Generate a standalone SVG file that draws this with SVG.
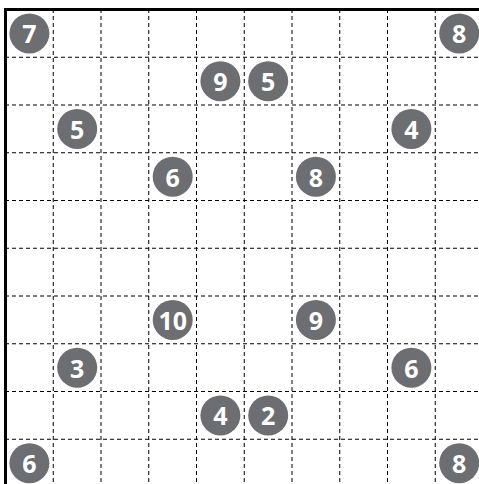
<svg xmlns="http://www.w3.org/2000/svg" width="479" height="484" viewBox="0 0 479 484">
<style>
.g{stroke:#000;stroke-width:1;stroke-dasharray:4,3;fill:none}
.b{stroke:#000;stroke-width:3;fill:none}
.c{fill:#6d6e71}
.t{fill:#fff;font-family:"Open Sans","DejaVu Sans",sans-serif;font-weight:bold;font-size:25px;text-anchor:middle;dominant-baseline:central}
</style>
<rect width="479" height="484" fill="#fff"/>
<g id="grid">
<path class="g" d="M53.25 9V484M101 9V484M148.75 9V484M196.5 9V484M244.25 9V484M292 9V484M339.75 9V484M387.5 9V484M435.25 9V484"/>
<path class="g" d="M5 57.25H479M5 105H479M5 152.75H479M5 200.5H479M5 248.25H479M5 296H479M5 343.75H479M5 391.5H479M5 439.25H479"/>
<path class="b" d="M5.5 484V9.5H479"/>
</g>
<g id="n1"><circle class="c" cx="29.4" cy="33.4" r="20"/><text class="t" x="29.4" y="33.4">7</text></g>
<g id="n2"><circle class="c" cx="459.2" cy="33.4" r="20"/><text class="t" x="459.2" y="33.4">8</text></g>
<g id="n3"><circle class="c" cx="220.4" cy="81.2" r="20"/><text class="t" x="220.4" y="81.2">9</text></g>
<g id="n4"><circle class="c" cx="268.2" cy="81.2" r="20"/><text class="t" x="268.2" y="81.2">5</text></g>
<g id="n5"><circle class="c" cx="77.2" cy="128.9" r="20"/><text class="t" x="77.2" y="128.9">5</text></g>
<g id="n6"><circle class="c" cx="411.4" cy="128.9" r="20"/><text class="t" x="411.4" y="128.9">4</text></g>
<g id="n7"><circle class="c" cx="172.7" cy="176.7" r="20"/><text class="t" x="172.7" y="176.7">6</text></g>
<g id="n8"><circle class="c" cx="315.9" cy="176.7" r="20"/><text class="t" x="315.9" y="176.7">8</text></g>
<g id="n9"><circle class="c" cx="172.7" cy="319.9" r="20"/><text class="t" x="172.7" y="319.9">10</text></g>
<g id="n10"><circle class="c" cx="315.9" cy="319.9" r="20"/><text class="t" x="315.9" y="319.9">9</text></g>
<g id="n11"><circle class="c" cx="77.2" cy="367.7" r="20"/><text class="t" x="77.2" y="367.7">3</text></g>
<g id="n12"><circle class="c" cx="411.4" cy="367.7" r="20"/><text class="t" x="411.4" y="367.7">6</text></g>
<g id="n13"><circle class="c" cx="220.4" cy="415.4" r="20"/><text class="t" x="220.4" y="415.4">4</text></g>
<g id="n14"><circle class="c" cx="268.2" cy="415.4" r="20"/><text class="t" x="268.2" y="415.4">2</text></g>
<g id="n15"><circle class="c" cx="29.4" cy="463.2" r="20"/><text class="t" x="29.4" y="463.2">6</text></g>
<g id="n16"><circle class="c" cx="459.2" cy="463.2" r="20"/><text class="t" x="459.2" y="463.2">8</text></g>
</svg>
